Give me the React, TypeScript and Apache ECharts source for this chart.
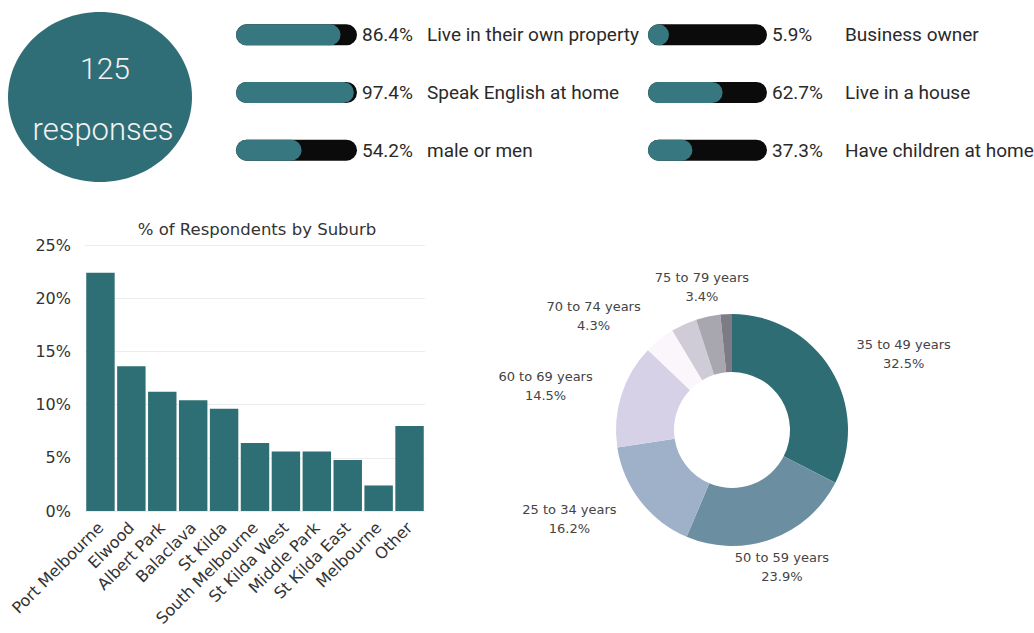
import React, { useEffect, useRef } from "react";
import * as echarts from "echarts";

const RESPONSES = 125;

const statLeftLabels = ["Live in their own property", "Speak English at home", "male or men"];
const statLeftValues = [86.4, 97.4, 54.2];
const statRightLabels = ["Business owner", "Live in a house", "Have children at home"];
const statRightValues = [5.9, 62.7, 37.3];

const suburbs = [
  "Port Melbourne", "Elwood", "Albert Park", "Balaclava", "St Kilda",
  "South Melbourne", "St Kilda West", "Middle Park", "St Kilda East", "Melbourne", "Other",
];
const suburbValues = [22.4, 13.6, 11.2, 10.4, 9.6, 6.4, 5.6, 5.6, 4.8, 2.4, 8.0];
const suburbTicks = [0, 5, 10, 15, 20, 25];

const ageGroups = [
  "35 to 49 years", "50 to 59 years", "25 to 34 years", "60 to 69 years",
  "70 to 74 years", "80 to 84 years", "75 to 79 years", "85 years and over",
];
const ageValues = [32.5, 23.9, 16.2, 14.5, 4.3, 3.6, 3.4, 1.6];
const ageLabelled = [true, true, true, true, true, false, true, false];
const ageColors = ["#2f6d75", "#6b8fa1", "#9fb1c9", "#d6d1e6", "#fbf6fc", "#d0ccd7", "#a8a7b0", "#7d7b86"];

const TEAL = "#2f6e76";
const TEXT_FONT = "Roboto";
const CHART_FONT = "DejaVu Sans";
const PIE_CENTER = [732, 430];

function statSeries(values: number[], labels: string[], idx: number, pctWidth: number) {
  return [
    {
      type: "bar",
      xAxisIndex: idx,
      yAxisIndex: idx,
      data: values.map(() => 100),
      barWidth: 21,
      silent: true,
      itemStyle: { color: "#0b0b0b", borderRadius: 11 },
      label: {
        show: true,
        position: "right",
        distance: 5,
        formatter: (p: any) => `{p|${values[p.dataIndex]}%}{l|${labels[p.dataIndex]}}`,
        rich: {
          p: { width: pctWidth, fontSize: 19, color: "#2a2a2a", fontFamily: TEXT_FONT },
          l: { fontSize: 19, color: "#2a2a2a", fontFamily: TEXT_FONT },
        },
      },
    },
    {
      type: "bar",
      xAxisIndex: idx,
      yAxisIndex: idx,
      data: values,
      barWidth: 21,
      barGap: "-100%",
      barMinHeight: 21,
      silent: true,
      itemStyle: { color: "#377880", borderRadius: 11 },
    },
  ];
}

export default function App() {
  const ref = useRef<HTMLDivElement>(null);
  useEffect(() => {
    if (!ref.current) return;
    const chart = echarts.init(ref.current, null, { renderer: "svg" });
    const statCats = ["a", "b", "c"];
    const option: any = {
      animation: false,
      backgroundColor: "#ffffff",
      title: {
        text: "% of Respondents by Suburb",
        left: 252,
        top: 216,
        textAlign: "center",
        textStyle: { fontSize: 16.5, fontWeight: "normal", color: "#333", fontFamily: CHART_FONT },
      },
      graphic: [
        {
          type: "ellipse",
          shape: { cx: 100, cy: 97, rx: 92, ry: 85 },
          style: { fill: TEAL },
        },
        {
          type: "text",
          x: 105,
          y: 68,
          style: { text: String(RESPONSES), fill: "#f2f2f2", fontSize: 30, fontWeight: 300, fontFamily: TEXT_FONT, align: "center", verticalAlign: "middle" },
        },
        {
          type: "text",
          x: 103,
          y: 129,
          style: { text: "responses", fill: "#f2f2f2", fontSize: 31, fontWeight: 300, fontFamily: TEXT_FONT, align: "center", verticalAlign: "middle" },
        },
      ],
      grid: [
        { left: 236, width: 121, top: 6, height: 173 },
        { left: 648, width: 119, top: 6, height: 173 },
        { left: 85, right: 609, top: 245, bottom: 122 },
      ],
      xAxis: [
        { gridIndex: 0, type: "value", min: 0, max: 100, show: false },
        { gridIndex: 1, type: "value", min: 0, max: 100, show: false },
        {
          gridIndex: 2,
          type: "category",
          data: suburbs,
          axisLine: { show: false },
          axisTick: { show: false },
          axisLabel: { interval: 0, rotate: 45, fontSize: 16, color: "#333", fontFamily: CHART_FONT, margin: 14 },
        },
      ],
      yAxis: [
        { gridIndex: 0, type: "category", data: statCats, inverse: true, show: false },
        { gridIndex: 1, type: "category", data: statCats, inverse: true, show: false },
        {
          gridIndex: 2,
          type: "value",
          min: suburbTicks[0],
          max: suburbTicks[suburbTicks.length - 1],
          interval: 5,
          axisLabel: { formatter: "{value}%", fontSize: 16, color: "#333", fontFamily: CHART_FONT, margin: 14 },
          splitLine: { lineStyle: { color: "#ececec" } },
        },
      ],
      series: [
        ...statSeries(statLeftValues, statLeftLabels, 0, 65),
        ...statSeries(statRightValues, statRightLabels, 1, 73),
        {
          type: "bar",
          xAxisIndex: 2,
          yAxisIndex: 2,
          data: suburbValues,
          barCategoryGap: "8%",
          itemStyle: { color: "#2e6f75" },
        },
        {
          type: "pie",
          center: PIE_CENTER,
          radius: [58, 116],
          startAngle: 90,
          clockwise: true,
          silent: true,
          avoidLabelOverlap: false,
          data: ageGroups.map((name, i) => ({
            name,
            value: ageValues[i],
            itemStyle: { color: ageColors[i] },
            label: { show: ageLabelled[i] },
            labelLine: { show: ageLabelled[i] },
          })),
          label: {
            position: "outside",
            formatter: (p: any) => `${p.name}\n${p.value}%`,
            fontSize: 13,
            lineHeight: 19,
            color: "#444",
            fontFamily: CHART_FONT,
          },
          labelLine: { show: true, length: 10, length2: 0, lineStyle: { opacity: 0, width: 0 } },
          labelLayout: (params: any) => {
            const r = params.labelRect;
            const pts = params.labelLinePoints;
            if (!pts || pts.length < 1) {
              return { x: r.x + r.width / 2, y: r.y + r.height / 2, align: "center", verticalAlign: "middle" };
            }
            const p0 = pts[0];
            let dx = p0[0] - PIE_CENTER[0];
            let dy = p0[1] - PIE_CENTER[1];
            const len = Math.hypot(dx, dy) || 1;
            dx /= len;
            dy /= len;
            const hw = r.width / 2;
            const f = Math.max(0, Math.min(1, (Math.abs(dx) - 0.35) / 0.25));
            const x = p0[0] + dx * 30 + Math.sign(dx) * hw * f;
            const y = p0[1] + dy * 30;
            return { x, y, align: "center", verticalAlign: "middle" };
          },
        },
      ],
    };
    chart.setOption(option);
    return () => chart.dispose();
  }, []);
  return <div ref={ref} style={{ position: "absolute", left: 0, top: 0, width: 1034, height: 633 }} />;
}
